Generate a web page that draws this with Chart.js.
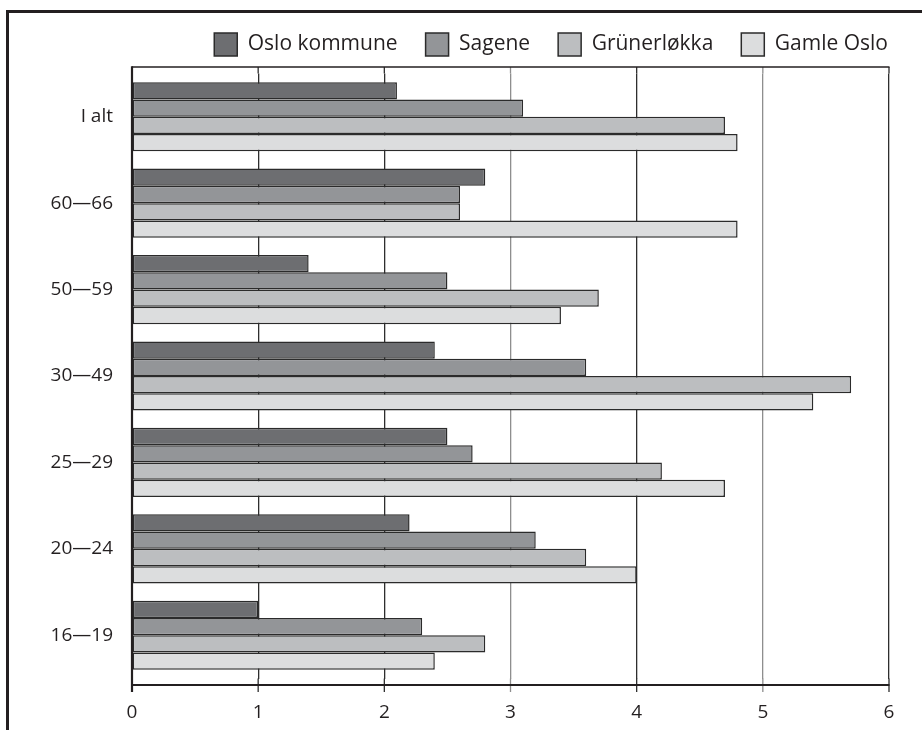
<!DOCTYPE html>
<html>
<head>
<meta charset="utf-8">
<script src="https://cdn.jsdelivr.net/npm/chart.js@4.4.1/dist/chart.umd.min.js"></script>
<style>
  html, body { margin: 0; padding: 0; background: #fff; }
  #wrap { position: relative; width: 922px; height: 730px; overflow: hidden; }
  #frame { position: absolute; left: 6px; top: 10px; width: 940px; height: 740px;
           border-left: 3px solid #231f20; border-top: 3px solid #231f20; }
  #chart { position: absolute; left: 0; top: 0; }
</style>
</head>
<body>
<div id="wrap">
  <div id="frame"></div>
  <canvas id="chart" width="922" height="730"></canvas>
</div>
<script>
// Age groups, top to bottom
const ageGroups = ['I alt', '60—66', '50—59', '30—49', '25—29', '20—24', '16—19'];

// Series values per age group
const osloKommune = [2.1, 2.8, 1.4, 2.4, 2.5, 2.2, 1.0];
const sagene      = [3.1, 2.6, 2.5, 3.6, 2.7, 3.2, 2.3];
const grunerlokka = [4.7, 2.6, 3.7, 5.7, 4.2, 3.6, 2.8];
const gamleOslo   = [4.8, 4.8, 3.4, 5.4, 4.7, 4.0, 2.4];

// x axis tick labels
const xTicks = [0, 1, 2, 3, 4, 5, 6];

const FONT = "'Open Sans', 'Noto Sans', sans-serif";
const INK = '#231f20';
const EDGE = 6.5; // space between plot frame and first/last group

function gridColor(v) {
  return (v === 3 || v === 5) ? '#8e8e8e' : '#2e2e2e';
}

// Legend a bit taller so the plot starts lower
const legendSpace = {
  id: 'legendSpace',
  beforeInit(chart) {
    const fit = chart.legend.fit;
    chart.legend.fit = function() {
      fit.bind(chart.legend)();
      this.height += 7.5;
    };
  }
};

// Plot frame: top line, bottom axis, left axis and grid extensions
const plotFrame = {
  id: 'plotFrame',
  beforeDatasetsDraw(chart) {
    const { ctx, chartArea: a, scales: { x } } = chart;
    ctx.save();
    ctx.lineWidth = 1.3;
    x.ticks.forEach(t => {
      const px = x.getPixelForValue(t.value);
      ctx.strokeStyle = gridColor(t.value);
      ctx.beginPath();
      ctx.moveTo(px, a.top - EDGE);
      ctx.lineTo(px, a.top);
      ctx.moveTo(px, a.bottom);
      ctx.lineTo(px, a.bottom + EDGE + 7);
      ctx.stroke();
    });
    ctx.restore();
  },
  afterDatasetsDraw(chart) {
    const { ctx, chartArea: a } = chart;
    ctx.save();
    ctx.strokeStyle = INK;
    ctx.lineWidth = 1.6;
    ctx.beginPath();
    ctx.moveTo(a.left, a.top - EDGE);
    ctx.lineTo(a.right + 0.5, a.top - EDGE);
    ctx.stroke();
    ctx.lineWidth = 2.2;
    ctx.beginPath();
    ctx.moveTo(a.left, a.bottom + EDGE);
    ctx.lineTo(a.right + 0.5, a.bottom + EDGE);
    ctx.moveTo(a.left, a.top - EDGE - 0.8);
    ctx.lineTo(a.left, a.bottom + EDGE + 7);
    ctx.stroke();
    ctx.restore();
  }
};

function makeSeries(label, data, color) {
  return {
    label: label,
    data: data,
    backgroundColor: color,
    borderColor: '#2b2b2b',
    borderWidth: 1.5,
    borderSkipped: false,
    categoryPercentage: 0.8,
    barPercentage: 1.0
  };
}

new Chart(document.getElementById('chart'), {
  type: 'bar',
  data: {
    labels: ageGroups,
    datasets: [
      makeSeries('Oslo kommune', osloKommune, '#6d6e71'),
      makeSeries('Sagene', sagene, '#939598'),
      makeSeries('Grünerløkka', grunerlokka, '#bcbec0'),
      makeSeries('Gamle Oslo', gamleOslo, '#dcddde')
    ]
  },
  options: {
    indexAxis: 'y',
    responsive: false,
    animation: false,
    layout: { padding: { top: 5, right: 6, bottom: 0, left: 0 } },
    plugins: {
      legend: {
        position: 'top',
        align: 'end',
        labels: {
          boxWidth: 23,
          boxHeight: 23,
          padding: 28,
          color: INK,
          font: { family: FONT, size: 21 }
        }
      },
      tooltip: { enabled: false }
    },
    scales: {
      x: {
        min: 0,
        max: 6,
        afterBuildTicks(scale) {
          scale.ticks = xTicks.map(v => ({ value: v }));
        },
        afterFit(scale) { scale.height = 51.5; },
        grid: {
          drawTicks: false,
          lineWidth: 1.3,
          color: c => gridColor(c.tick ? c.tick.value : 0)
        },
        border: { display: false },
        ticks: {
          padding: 23,
          color: INK,
          font: { family: FONT, size: 19 }
        }
      },
      y: {
        afterFit(scale) { scale.width = 132; },
        grid: { display: false, drawTicks: false },
        border: { display: false },
        ticks: {
          padding: 19,
          color: INK,
          font: { family: FONT, size: 19 }
        }
      },
      yRight: {
        type: 'linear',
        position: 'right',
        afterFit(scale) { scale.width = 27; },
        grid: { display: false },
        border: { display: false },
        ticks: { display: false }
      }
    }
  },
  plugins: [legendSpace, plotFrame]
});
</script>
</body>
</html>
